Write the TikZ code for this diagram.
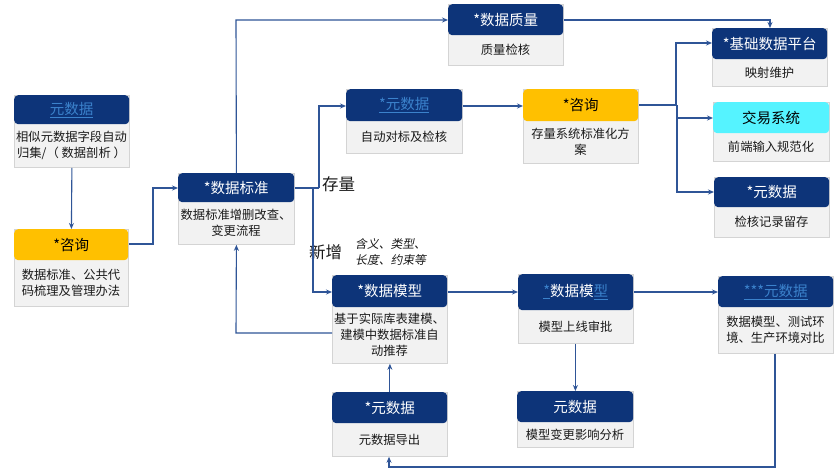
\documentclass[tikz,border=0pt]{standalone}
\usepackage{fontspec}
\setmainfont{Noto Sans CJK SC}
\newfontfamily\cjkit[FakeSlant=0.2]{Noto Sans CJK SC}
\usetikzlibrary{arrows.meta}
\definecolor{hdrblue}{HTML}{0D3479}
\definecolor{linkblue}{HTML}{3B82CC}
\definecolor{bodyfill}{HTML}{F2F2F2}
\definecolor{bodyline}{HTML}{D4D4D4}
\definecolor{hdryellow}{HTML}{FFC000}
\definecolor{hdrcyan}{HTML}{55F3FF}
\definecolor{conn}{HTML}{2F5597}
\definecolor{txt}{HTML}{1A1A1A}
\newcommand{\lnk}[1]{\textcolor{linkblue}{\underline{#1}}}
\begin{document}
\begin{tikzpicture}[x=1pt,y=-1pt,
  bodybox/.style={draw=bodyline,line width=0.8pt,fill=bodyfill,inner sep=0pt,anchor=north west},
  hdrbox/.style={fill=hdrblue,rounded corners=4pt,inner sep=0pt,anchor=north west,text=white,font=\fontsize{14.5}{16}\selectfont},
  bodytext/.style={text=txt,align=center,inner sep=0pt,font=\fontsize{12.3}{16}\selectfont},
  arr/.style={draw=conn,line width=1.1pt,-{Stealth[length=6pt,width=5pt]}},
  ln/.style={draw=conn,line width=1.1pt},
  lbl/.style={text=txt,inner sep=0pt,font=\fontsize{16.5}{18}\selectfont}]
\useasboundingbox[fill=white] (0,0) rectangle (838,471);

% generic box: body then header
\newcommand{\dbox}[9]{%
  % #1 name, #2 x1, #3 y1, #4 x2, #5 yh, #6 y2, #7 header style, #8 header text, #9 body text
  \node[bodybox,minimum width={(#4-#2)*1pt},minimum height={(#6-#3)*1pt}] (#1) at (#2,#3) {};
  \node[hdrbox,#7,minimum width={(#4-#2)*1pt},minimum height={(#5-#3)*1pt}] (#1h) at (#2,#3) {#8};
  \node[bodytext] (#1t) at ({(#2+#4)/2},{(#5+#6)/2}) {#9};
}

\dbox{ys}{14}{95}{129}{124}{167}{}{\lnk{元数据}}{相似元数据字段自动\\归集/（ 数据剖析 ）}
\dbox{zx}{14}{229}{128}{260}{306}{fill=hdryellow,text=black}{*咨询}{数据标准、公共代\\码梳理及管理办法}
\dbox{bz}{178}{173}{294}{202}{244}{}{*数据标准}{数据标准增删改查、\\变更流程}
\dbox{zl}{448}{4}{563}{35}{65}{}{*数据质量}{质量检核}
\dbox{dbm}{346}{89}{462}{121}{153}{}{\lnk{*元数据}}{自动对标及检核}
\dbox{zxb}{523}{89}{638}{121}{163}{fill=hdryellow,text=black}{*咨询}{存量系统标准化方\\案}
\dbox{jc}{712}{28}{827}{59}{86}{}{*基础数据平台}{映射维护}
\dbox{jy}{713}{102}{829}{133}{161}{fill=hdrcyan,text=black}{交易系统}{前端输入规范化}
\dbox{jh}{714}{177}{829}{207}{237}{}{*元数据}{检核记录留存}
\dbox{mx}{332}{275}{447}{307}{363}{}{*数据模型}{基于实际库表建模、\\建模中数据标准自\\动推荐}
\dbox{dc}{332}{392}{447}{423}{456}{}{*元数据}{元数据导出}
\dbox{sp}{518}{274}{633}{310}{343}{}{\lnk{*}数据模\lnk{型}}{模型上线审批}
\dbox{yx}{517}{391}{633}{422}{447}{}{元数据}{模型变更影响分析}
\dbox{db}{718}{276}{833}{307}{353}{}{\lnk{***元数据}}{数据模型、测试环\\境、生产环境对比}

% labels
\node[lbl,anchor=west] (cl) at (322,184) {存量};
\node[lbl,anchor=west] (xz) at (309,252) {新增};
\node[text=txt,inner sep=0pt,align=left,anchor=west,font=\cjkit\fontsize{11.8}{16}\selectfont] (hy) at (355,252) {含义、类型、\\长度、约束等};

% coordinates
\coordinate (c1) at (153,244);
\coordinate (c2) at (153,188);
\coordinate (c3) at (236,20);
\coordinate (c4) at (319,188);
\coordinate (c5) at (319,106);
\coordinate (c6) at (313,188);
\coordinate (c7) at (313,292);
\coordinate (c8) at (236,333);
\coordinate (c9) at (770,20);
\coordinate (d1) at (676,105);
\coordinate (d2) at (676,43);
\coordinate (d3) at (677,118);
\coordinate (d4) at (677,192);
\coordinate (e1) at (775,467);
\coordinate (e2) at (389,467);

% connectors
\draw[arr] (ys.south) -- (zx.north);
\draw[arr] (zx.east |- c1) -- (c1) -- (c2) -- (bz.west |- c2);
\draw[arr] (bz.north) -- (c3) -- (zl.west |- c3);
\draw[ln] (bz.east |- c4) -- (c4);
\draw[arr] (c4) -- (c5) -- (dbm.west |- c5);
\draw[arr] (c6) -- (c7) -- (mx.west |- c7);
\draw[arr] (mx.west |- c8) -- (c8) -- (bz.south);
\draw[arr] (zl.east |- c9) -- (c9) -- (jc.north -| c9);
\draw[arr] (dbm.east |- c5) -- (zxb.west |- c5);
\draw[ln] (zxb.east |- d1) -- (d1);
\draw[arr] (d1) -- (d2) -- (jc.west |- d2);
\draw[arr] (d1 -| d3) -- (d3) -- (jy.west |- d3);
\draw[arr] (d3) -- (d4) -- (jh.west |- d4);
\draw[arr] (mx.east |- c7) -- (sp.west |- c7);
\draw[arr] (sp.east |- c7) -- (db.west |- c7);
\draw[arr] (sp.south -| yx.north) -- (yx.north);
\draw[arr] (dc.north) -- (mx.south -| dc.north);
\draw[arr] (db.south -| e1) -- (e1) -- (e2) -- (dc.south -| e2);
\end{tikzpicture}
\end{document}
